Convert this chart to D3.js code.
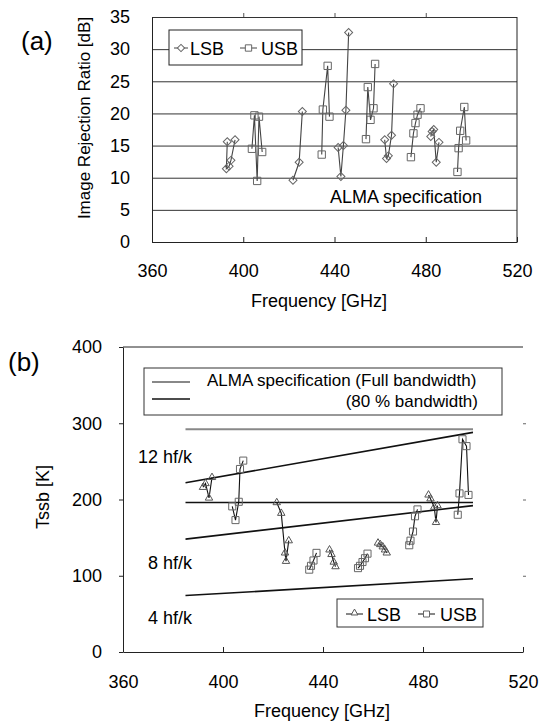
<!DOCTYPE html>
<html>
<head>
<meta charset="utf-8">
<script src="https://cdn.jsdelivr.net/npm/d3@7"></script>
<style>
  body { margin: 0; background: #fff; }
  svg { display: block; font-family: "Liberation Sans", Arial, sans-serif; }
</style>
</head>
<body>
<svg id="chart" width="543" height="723"></svg>
<script>
// ===========
// DATA
// ===========

// shared x ticks
const freqTicks = [360, 400, 440, 480, 520];

// (a) image rejection ratio, one inner array per measurement group
const irrTicks = [0, 5, 10, 15, 20, 25, 30, 35];
const irrLsbFreq = [
  [393.0, 392.6, 393.8, 394.6, 396.4],
  [421.8, 424.5, 425.9],
  [441.6, 442.8, 443.9, 445.0, 446.2],
  [462.0, 462.8, 463.6, 465.0, 465.9],
  [482.2, 482.8, 483.5, 484.6, 485.8]
];
const irrLsbVal = [
  [15.6, 11.4, 11.8, 12.7, 15.9],
  [9.6, 12.4, 20.3],
  [14.7, 10.2, 15.0, 20.5, 32.6],
  [15.9, 13.0, 13.4, 16.6, 24.6],
  [16.4, 17.2, 17.5, 12.4, 15.5]
];
const irrUsbFreq = [
  [403.8, 404.9, 406.1, 406.9, 408.3],
  [434.4, 434.9, 437.0, 437.8],
  [453.8, 454.6, 455.8, 457.1, 457.8],
  [473.5, 474.6, 475.5, 476.4, 477.7],
  [493.9, 494.4, 495.1, 496.9, 497.7]
];
const irrUsbVal = [
  [14.5, 19.7, 9.5, 19.5, 14.0],
  [13.6, 20.6, 27.4, 19.5],
  [16.0, 24.1, 19.0, 20.8, 27.7],
  [13.2, 16.9, 18.5, 19.8, 20.8],
  [10.9, 14.6, 17.3, 21.0, 15.8]
];

// (b) Tssb
const tssbTicks = [0, 100, 200, 300, 400];
const tssbLsbFreq = [
  [392.0, 393.0, 394.4, 395.6],
  [421.5, 423.3, 424.8, 425.2, 426.3],
  [442.6, 443.4, 444.3, 445.0],
  [462.0, 462.9, 463.9, 464.8, 465.5],
  [482.2, 483.0, 484.5, 485.2, 485.8]
];
const tssbLsbVal = [
  [216, 221, 202, 229],
  [196, 182, 130, 119, 146],
  [134, 128, 118, 112],
  [143, 141, 138, 134, 130],
  [206, 201, 190, 170, 192]
];
const tssbUsbFreq = [
  [403.7, 405.0, 406.3, 406.8, 408.1],
  [434.5, 435.2, 436.2, 437.4],
  [454.0, 454.8, 455.8, 456.8, 457.8],
  [474.5, 475.0, 476.0, 476.8, 477.8],
  [493.9, 494.6, 495.8, 497.4, 498.2]
];
const tssbUsbVal = [
  [191, 173, 197, 240, 251],
  [108, 113, 120, 130],
  [110, 113, 118, 123, 129],
  [140, 146, 158, 178, 187],
  [180, 208, 279, 270, 206]
];

// reference lines over the band (start / end frequency)
const specFreq = [385, 500];
const specFull = [292, 292];
const spec80 = [196, 196];
const hfk12 = [222, 288];
const hfk8 = [148, 192];
const hfk4 = [74, 96];

const svg = d3.select("#chart");

// draws connected groups with open markers
function drawGroups(g, x, y, freqs, vals, symbol, size, rotate, lineColor, markColor) {
  freqs.forEach(function(fs, i) {
    const pts = fs.map(function(f, j) { return [f, vals[i][j]]; });
    g.append("path")
      .datum(pts)
      .attr("d", d3.line().x(d => x(d[0])).y(d => y(d[1])))
      .attr("fill", "none")
      .attr("stroke", lineColor)
      .attr("stroke-width", 1.1);
    g.selectAll(null)
      .data(pts)
      .enter()
      .append("path")
        .attr("transform", d => "translate(" + x(d[0]) + "," + y(d[1]) + ")" + (rotate ? " rotate(45)" : ""))
        .attr("d", d3.symbol(symbol, size))
        .attr("fill", "none")
        .attr("stroke", markColor)
        .attr("stroke-width", 1);
  });
}

function styleAxis(g, fontSize) {
  g.selectAll("text").attr("font-size", fontSize).attr("fill", "#000")
    .attr("font-family", "Liberation Sans, Arial, sans-serif");
  g.selectAll("line").attr("stroke", "#222");
  g.select(".domain").attr("stroke", "#222");
}

// ============
// PANEL (a)
// ============

const xa = d3.scaleLinear().domain([360, 520]).range([152, 517]);
const ya = d3.scaleLinear().domain([0, 35]).range([242, 17]);

// gridlines
svg.append("g")
  .attr("transform", "translate(152,0)")
  .call(d3.axisLeft(ya).tickValues(irrTicks).tickSize(-365).tickFormat(""))
  .call(g => g.select(".domain").remove())
  .call(g => g.selectAll("line").attr("stroke", "#333").attr("stroke-width", 1));

// left axis
const ayAxis = svg.append("g")
  .attr("transform", "translate(152,0)")
  .call(d3.axisLeft(ya).tickValues(irrTicks).tickSize(0).tickPadding(22));
styleAxis(ayAxis, 18);

// bottom axis, ticks inside
const axAxis = svg.append("g")
  .attr("transform", "translate(0,242)")
  .call(d3.axisBottom(xa).tickValues(freqTicks).tickSizeInner(-5).tickSizeOuter(0).tickPadding(22));
styleAxis(axAxis, 18);

// small top ticks
svg.append("g")
  .attr("transform", "translate(0,17)")
  .call(d3.axisTop(xa).tickValues([400, 440, 480]).tickSize(4).tickFormat(""))
  .call(g => g.select(".domain").remove())
  .call(g => g.selectAll("line").attr("stroke", "#555"));

// right border
svg.append("line")
  .attr("x1", xa(520)).attr("x2", xa(520))
  .attr("y1", ya(35)).attr("y2", ya(0))
  .attr("stroke", "#222");

const ga = svg.append("g");
drawGroups(ga, xa, ya, irrLsbFreq, irrLsbVal, d3.symbolSquare, 32, true, "#444", "#666");
drawGroups(ga, xa, ya, irrUsbFreq, irrUsbVal, d3.symbolSquare, 54, false, "#444", "#666");

svg.append("text")
  .attr("x", 330).attr("y", 203)
  .attr("font-size", 18)
  .text("ALMA specification");

// legend (a)
svg.append("rect")
  .attr("x", 169).attr("y", 30).attr("width", 133).attr("height", 35)
  .attr("fill", "#fff").attr("stroke", "#222");
svg.append("line").attr("x1", 174).attr("x2", 188).attr("y1", 48).attr("y2", 48).attr("stroke", "#444");
svg.append("path").attr("transform", "translate(181,48) rotate(45)")
  .attr("d", d3.symbol(d3.symbolSquare, 26)).attr("fill", "#fff").attr("stroke", "#666");
svg.append("text").attr("x", 190).attr("y", 55).attr("font-size", 18).text("LSB");
svg.append("line").attr("x1", 240).attr("x2", 257).attr("y1", 48).attr("y2", 48).attr("stroke", "#444");
svg.append("path").attr("transform", "translate(248.5,48)")
  .attr("d", d3.symbol(d3.symbolSquare, 40)).attr("fill", "#fff").attr("stroke", "#666");
svg.append("text").attr("x", 261).attr("y", 55).attr("font-size", 18).text("USB");

// labels (a)
svg.append("text")
  .attr("transform", "translate(90,118) rotate(-90)")
  .attr("text-anchor", "middle")
  .attr("font-size", 17)
  .text("Image Rejection Ratio [dB]");
svg.append("text")
  .attr("x", 319).attr("y", 307)
  .attr("text-anchor", "middle")
  .attr("font-size", 18)
  .text("Frequency [GHz]");
svg.append("text")
  .attr("x", 21).attr("y", 50)
  .attr("font-size", 26)
  .text("(a)");

// ============
// PANEL (b)
// ============

const xb = d3.scaleLinear().domain([360, 520]).range([123, 523]);
const yb = d3.scaleLinear().domain([0, 400]).range([652, 347]);

const byAxis = svg.append("g")
  .attr("transform", "translate(123,0)")
  .call(d3.axisLeft(yb).tickValues(tssbTicks).tickSizeInner(4).tickSizeOuter(0).tickPadding(17));
styleAxis(byAxis, 18);

const bxAxis = svg.append("g")
  .attr("transform", "translate(0,652)")
  .call(d3.axisBottom(xb).tickValues(freqTicks).tickSizeInner(-5).tickSizeOuter(0).tickPadding(23));
styleAxis(bxAxis, 18);

// right ticks, no visible border
svg.append("g")
  .attr("transform", "translate(" + xb(520) + ",0)")
  .call(d3.axisRight(yb).tickValues([100, 200, 300]).tickSize(3).tickFormat(""))
  .call(g => g.select(".domain").remove())
  .call(g => g.selectAll("line").attr("stroke", "#666"));

// top border
svg.append("line")
  .attr("x1", xb(360)).attr("x2", xb(520))
  .attr("y1", yb(400)).attr("y2", yb(400))
  .attr("stroke", "#222");

// reference lines
const refLine = d3.line().x((d, i) => xb(specFreq[i])).y(d => yb(d));
svg.append("path").datum(specFull).attr("d", refLine)
  .attr("fill", "none").attr("stroke", "#888").attr("stroke-width", 2);
[spec80, hfk12, hfk8, hfk4].forEach(function(arr) {
  svg.append("path").datum(arr).attr("d", refLine)
    .attr("fill", "none").attr("stroke", "#111").attr("stroke-width", 1.6);
});

const gb = svg.append("g");
drawGroups(gb, xb, yb, tssbLsbFreq, tssbLsbVal, d3.symbolTriangle, 24, false, "#111", "#555");
drawGroups(gb, xb, yb, tssbUsbFreq, tssbUsbVal, d3.symbolSquare, 50, false, "#111", "#666");

svg.append("text").attr("x", 138).attr("y", 463).attr("font-size", 18).text("12 hf/k");
svg.append("text").attr("x", 148).attr("y", 569).attr("font-size", 18).text("8 hf/k");
svg.append("text").attr("x", 148).attr("y", 624).attr("font-size", 18).text("4 hf/k");

// legend: spec lines
svg.append("rect")
  .attr("x", 144).attr("y", 368).attr("width", 358).attr("height", 47)
  .attr("fill", "#fff").attr("stroke", "#333");
svg.append("line").attr("x1", 152).attr("x2", 190).attr("y1", 382).attr("y2", 382)
  .attr("stroke", "#888").attr("stroke-width", 2);
svg.append("line").attr("x1", 152).attr("x2", 190).attr("y1", 399).attr("y2", 399)
  .attr("stroke", "#111").attr("stroke-width", 1.6);
svg.append("text").attr("x", 207).attr("y", 386).attr("font-size", 17)
  .text("ALMA specification (Full bandwidth)");
svg.append("text").attr("x", 478).attr("y", 406.5).attr("font-size", 17)
  .attr("text-anchor", "end")
  .text("(80 % bandwidth)");

// legend: LSB / USB
svg.append("rect")
  .attr("x", 337).attr("y", 599).attr("width", 146).attr("height", 28)
  .attr("fill", "#fff").attr("stroke", "#333");
svg.append("line").attr("x1", 346).attr("x2", 363).attr("y1", 614).attr("y2", 614).attr("stroke", "#111");
svg.append("path").attr("transform", "translate(354.5,613)")
  .attr("d", d3.symbol(d3.symbolTriangle, 20)).attr("fill", "#fff").attr("stroke", "#555");
svg.append("text").attr("x", 367).attr("y", 621).attr("font-size", 18).text("LSB");
svg.append("line").attr("x1", 418).attr("x2", 435).attr("y1", 614).attr("y2", 614).attr("stroke", "#111");
svg.append("path").attr("transform", "translate(426.5,614)")
  .attr("d", d3.symbol(d3.symbolSquare, 36)).attr("fill", "#fff").attr("stroke", "#666");
svg.append("text").attr("x", 440).attr("y", 621).attr("font-size", 18).text("USB");

// labels (b)
svg.append("text")
  .attr("transform", "translate(49,497) rotate(-90)")
  .attr("text-anchor", "middle")
  .attr("font-size", 18)
  .text("Tssb [K]");
svg.append("text")
  .attr("x", 322).attr("y", 717)
  .attr("text-anchor", "middle")
  .attr("font-size", 18)
  .text("Frequency [GHz]");
svg.append("text")
  .attr("x", 8).attr("y", 371)
  .attr("font-size", 26)
  .text("(b)");
</script>
</body>
</html>
